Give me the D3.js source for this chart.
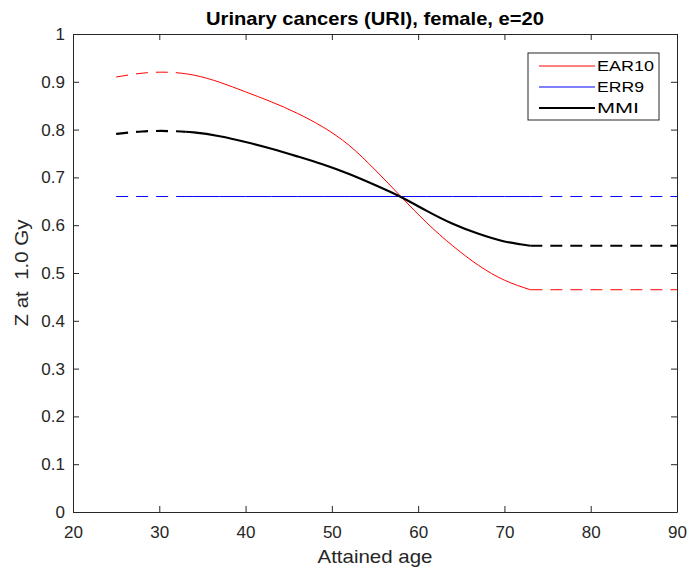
<!DOCTYPE html>
<html>
<head>
<meta charset="utf-8">
<script src="https://cdn.jsdelivr.net/npm/d3@7"></script>
<style>
  html, body { margin: 0; padding: 0; background: #fff; }
  svg { display: block; font-family: "Liberation Sans", Arial, Helvetica, sans-serif; }
</style>
</head>
<body>
<svg id="chart" width="689" height="572"></svg>
<script>
// Attained ages where the modelled curves are sampled
const ages = [25, 28, 31, 34, 37, 40, 43, 46, 49, 52, 55, 58, 61, 64, 67, 70, 73];

// Z at 1.0 Gy for each risk model
const ear10 = [0.910, 0.918, 0.920, 0.914, 0.899, 0.879, 0.858, 0.834, 0.805, 0.767, 0.716, 0.660, 0.605, 0.557, 0.516, 0.485, 0.465];
const mmi   = [0.791, 0.796, 0.797, 0.794, 0.786, 0.774, 0.760, 0.744, 0.727, 0.707, 0.684, 0.659, 0.630, 0.603, 0.582, 0.566, 0.557];
const err9  = [0.660, 0.660, 0.660, 0.660, 0.660, 0.660, 0.660, 0.660, 0.660, 0.660, 0.660, 0.660, 0.660, 0.660, 0.660, 0.660, 0.660];

// Age ranges: extrapolated (dashed) before and after the fitted span
const fitStart = 33;
const fitEnd = 73;
const extendTo = 90;

const xTicks = [20, 30, 40, 50, 60, 70, 80, 90];
const yTicks = [0, 0.1, 0.2, 0.3, 0.4, 0.5, 0.6, 0.7, 0.8, 0.9, 1];

const seriesNames = ["EAR10", "ERR9", "MMI"];
const seriesValues = [ear10, err9, mmi];
const seriesColors = ["#ff0000", "#0000ff", "#000000"];
const seriesWidths = [1, 1, 2.2];

const svg = d3.select("#chart");
const margin = { left: 73, right: 12, top: 34, bottom: 60 };
const W = 689, H = 572;
const x = d3.scaleLinear().domain([20, 90]).range([margin.left, W - margin.right]);
const y = d3.scaleLinear().domain([0, 1]).range([H - margin.bottom, margin.top]);
const axisColor = "#262626";

// Smooth spline through the sampled values
const line = d3.line().x(d => x(d[0])).y(d => y(d[1])).curve(d3.curveNatural);

seriesValues.forEach((vals, i) => {
  const pts = ages.map((a, k) => [a, vals[k]]);
  // Split the spline path at fitStart: the full spline is drawn dashed before it and solid after
  const g = svg.append("g").attr("fill", "none")
    .attr("stroke", seriesColors[i]).attr("stroke-width", seriesWidths[i]);
  const clipId = "clip" + i;
  const defs = svg.append("defs");
  defs.append("clipPath").attr("id", clipId + "a").append("rect")
    .attr("x", 0).attr("y", 0).attr("width", x(fitStart)).attr("height", H);
  defs.append("clipPath").attr("id", clipId + "b").append("rect")
    .attr("x", x(fitStart)).attr("y", 0).attr("width", W - x(fitStart)).attr("height", H);
  g.append("path").attr("d", line(pts)).attr("stroke-dasharray", "12,8")
    .attr("clip-path", `url(#${clipId}a)`);
  g.append("path").attr("d", line(pts)).attr("clip-path", `url(#${clipId}b)`);

  const last = vals[vals.length - 1];
  g.append("path").attr("d", d3.line().x(d => x(d[0])).y(d => y(d[1]))([[fitEnd, last], [extendTo, last]]))
    .attr("stroke-dasharray", "12,8");
});

// Axes with inward ticks on all four sides
const tickLen = 6;
const axBottom = svg.append("g").attr("transform", `translate(0,${y(0)})`)
  .call(d3.axisBottom(x).tickValues(xTicks).tickSize(-tickLen).tickSizeOuter(0).tickPadding(14).tickFormat(d3.format("d")));
const axTop = svg.append("g").attr("transform", `translate(0,${y(1)})`)
  .call(d3.axisTop(x).tickValues(xTicks).tickSize(-tickLen).tickSizeOuter(0).tickFormat(""));
const axLeft = svg.append("g").attr("transform", `translate(${x(20)},0)`)
  .call(d3.axisLeft(y).tickValues(yTicks).tickSize(-tickLen).tickSizeOuter(0).tickPadding(8).tickFormat(d => String(+d.toFixed(1))));
const axRight = svg.append("g").attr("transform", `translate(${x(90)},0)`)
  .call(d3.axisRight(y).tickValues(yTicks).tickSize(-tickLen).tickSizeOuter(0).tickFormat(""));

[axBottom, axTop, axLeft, axRight].forEach(a => {
  a.selectAll("path").attr("stroke", axisColor).attr("stroke-width", 1);
  a.selectAll("line").attr("stroke", axisColor);
  a.selectAll("text").attr("fill", axisColor).style("font-size", "17px")
    .style("font-family", "'Liberation Sans', Arial, sans-serif");
});

// Titles
svg.append("text").attr("x", (x(20) + x(90)) / 2).attr("y", 25)
  .attr("text-anchor", "middle").attr("font-weight", "bold").attr("font-size", 18.5)
  .attr("textLength", 338).attr("lengthAdjust", "spacingAndGlyphs")
  .attr("fill", "#000").text("Urinary cancers (URI), female, e=20");
svg.append("text").attr("x", (x(20) + x(90)) / 2).attr("y", 563)
  .attr("text-anchor", "middle").attr("font-size", 18.5)
  .attr("textLength", 115).attr("lengthAdjust", "spacingAndGlyphs")
  .attr("fill", axisColor).text("Attained age");
svg.append("text").attr("transform", `translate(28,${(y(0) + y(1)) / 2}) rotate(-90)`)
  .attr("text-anchor", "middle").attr("font-size", 18.5)
  .attr("textLength", 107).attr("lengthAdjust", "spacingAndGlyphs")
  .style("white-space", "pre")
  .attr("fill", axisColor).text("Z at  1.0 Gy");

// Legend
const lg = svg.append("g").attr("transform", "translate(528,53)");
lg.append("rect").attr("width", 131).attr("height", 67)
  .attr("fill", "#fff").attr("stroke", axisColor).attr("stroke-width", 1);
const legendWidths = [57, 47, 42];
seriesNames.forEach((name, i) => {
  const yy = 13 + i * 21;
  lg.append("line").attr("x1", 11).attr("x2", 67).attr("y1", yy).attr("y2", yy)
    .attr("stroke", seriesColors[i]).attr("stroke-width", seriesWidths[i]);
  lg.append("text").attr("x", 69).attr("y", yy).attr("dy", "0.36em")
    .attr("font-size", 14)
    .attr("textLength", legendWidths[i]).attr("lengthAdjust", "spacingAndGlyphs")
    .attr("fill", "#000").text(name);
});
</script>
</body>
</html>
